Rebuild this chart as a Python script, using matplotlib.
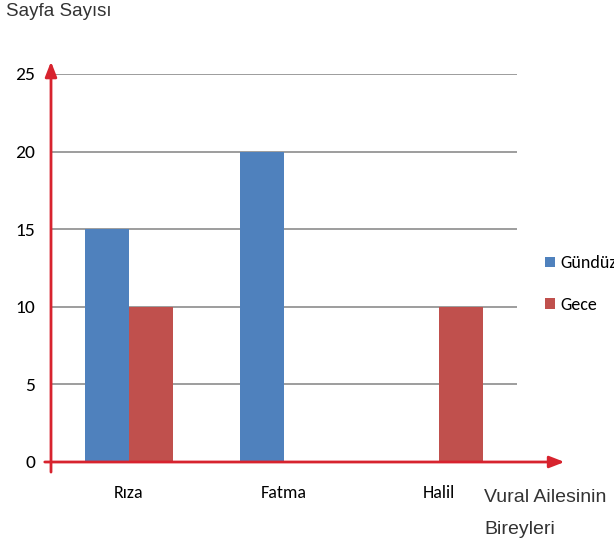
import matplotlib.pyplot as plt
import numpy as np

members = ["Rıza", "Fatma", "Halil"]
gunduz = [15, 20, 0]
gece = [10, 0, 10]
yticks = [0, 5, 10, 15, 20, 25]

BLUE = "#4F81BD"
RED = "#C0504D"
AXIS_RED = "#D7232E"
NARROW = ["Carlito", "DejaVu Sans"]
ARIAL = ["Liberation Sans", "DejaVu Sans"]


def main():
    fig = plt.figure(figsize=(6.14, 5.46), dpi=100)
    ax = fig.add_axes([51 / 614, 1 - 462 / 546, 466 / 614, 388 / 546])

    x = np.arange(len(members))
    w = 0.283
    ax.bar(x - w / 2, gunduz, w, color=BLUE, label="Gündüz", zorder=3)
    ax.bar(x + w / 2, gece, w, color=RED, label="Gece", zorder=3)

    ax.set_xlim(-0.5, len(members) - 0.5)
    ax.set_ylim(0, 25)
    ax.set_yticks(yticks)
    ax.set_yticklabels([str(t) for t in yticks], family=NARROW, fontsize=14)
    ax.set_xticks(x)
    ax.set_xticklabels(members, family=NARROW, fontsize=13)
    ax.tick_params(length=0)
    ax.tick_params(axis="y", pad=11.5)
    ax.tick_params(axis="x", pad=16.5)
    for t in yticks[1:]:
        ax.axhline(t, color="#8c8c8c", lw=1.2, zorder=1)
    for s in ax.spines.values():
        s.set_visible(False)

    # red arrow axes
    arrow = dict(arrowstyle="-|>,head_length=0.9,head_width=0.35", color=AXIS_RED,
                 lw=2, shrinkA=0, shrinkB=0)
    ax.annotate("", xy=(2.806, 0), xytext=(-0.54, 0), arrowprops=arrow,
                annotation_clip=False, zorder=5)
    ax.annotate("", xy=(-0.5, 25.8), xytext=(-0.5, -0.65), arrowprops=arrow,
                annotation_clip=False, zorder=5)

    fig.text(6 / 614, 1 - 12 / 546, "Sayfa Sayısı", fontsize=13.5,
             family=ARIAL, color="#333333", va="center", ha="left")
    fig.text(484 / 614, 1 - 497 / 546, "Vural Ailesinin", fontsize=14,
             family=ARIAL, color="#333333", va="center", ha="left")
    fig.text(484 / 614, 1 - 530 / 546, "Bireyleri", fontsize=14,
             family=ARIAL, color="#333333", va="center", ha="left")

    ax.legend(loc="center left", bbox_to_anchor=(545 / 614, 1 - 284 / 546),
              bbox_transform=fig.transFigure, frameon=False,
              prop={"family": NARROW, "size": 13}, handlelength=0.55,
              handleheight=0.55, handletextpad=0.3, labelspacing=1.4,
              borderaxespad=0, borderpad=0)

    fig.savefig("out.png", dpi=100)
    plt.close(fig)


if __name__ == "__main__":
    main()
